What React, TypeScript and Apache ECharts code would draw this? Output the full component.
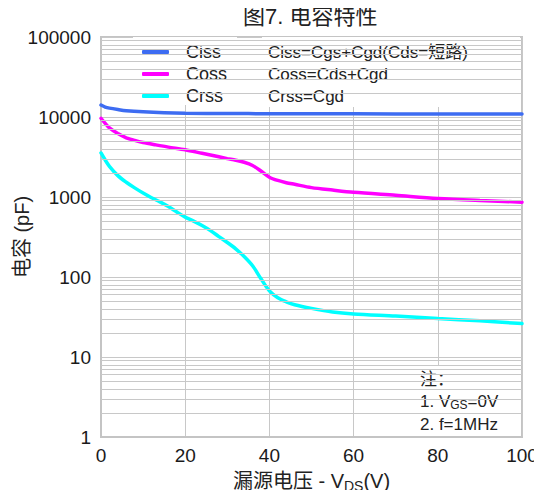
import React, { useEffect, useRef } from "react";
import * as echarts from "echarts";

// Drain-source voltage (V) sample points for each curve
const cissX = [0, 1, 2, 4, 6, 10, 15, 20, 30, 40, 60, 80, 100];
const cissY = [14100, 13300, 12900, 12400, 12000, 11600, 11300, 11150, 11050, 11000, 10950, 10900, 10900];

const cossX = [0, 1, 2, 4, 6, 8, 10, 13, 16, 20, 24, 28, 30, 32, 34, 36, 38, 40, 42, 44, 46, 50, 55, 60, 70, 80, 90, 100];
const cossY = [9640, 8300, 7300, 6200, 5500, 5100, 4800, 4480, 4200, 3900, 3520, 3180, 3020, 2880, 2720, 2480, 2110, 1770, 1610, 1510, 1440, 1310, 1220, 1145, 1050, 960, 905, 862];

const crssX = [0, 1, 2, 4, 6, 8, 10, 12, 14, 16, 18, 20, 22, 24, 26, 28, 30, 32, 34, 36, 38, 40, 42, 44, 46, 50, 55, 60, 70, 80, 90, 100];
const crssY = [3550, 2900, 2420, 1850, 1530, 1300, 1120, 980, 870, 760, 650, 560, 500, 440, 380, 320, 270, 225, 180, 138, 95, 67, 55, 49, 45, 40.5, 36.5, 34.5, 32.5, 30.3, 28.3, 26.2];

const seriesNames = ["Ciss", "Coss", "Crss"];
const seriesColors = ["#3d6cf2", "#ff00ff", "#00ffff"];

const formulas = ["Ciss=Cgs+Cgd(Cds=短路)", "Coss=Cds+Cgd", "Crss=Cgd"];
const notes = ["注：", "1. V{sub|GS}=0V", "2. f=1MHz"];

const xTicks = [0, 20, 40, 60, 80, 100];
const yDecades = [1, 10, 100, 1000, 10000, 100000];
const minorMultipliers = [2, 3, 4, 5, 6, 7, 8, 9];

const FONT = "'Liberation Sans', Arial, 'Noto Sans CJK SC', sans-serif";
const GRID_COLOR = "#c8c8c8";

function pairs(xs: number[], ys: number[]) {
  return xs.map((x, i) => [x, ys[i]]);
}

export default function App() {
  const ref = useRef<HTMLDivElement>(null);

  useEffect(() => {
    if (!ref.current) return;
    const chart = echarts.init(ref.current, undefined, { renderer: "svg" });

    const minorLines: { yAxis: number }[] = [];
    yDecades.slice(0, -1).forEach((d) =>
      minorMultipliers.forEach((m) => minorLines.push({ yAxis: d * m }))
    );

    const curves = [
      pairs(cissX, cissY),
      pairs(cossX, cossY),
      pairs(crssX, crssY),
    ];

    chart.setOption({
      animation: false,
      backgroundColor: "#ffffff",
      textStyle: { fontFamily: FONT },
      title: {
        text: "图7. 电容特性",
        left: 243,
        top: 5,
        padding: 0,
        textStyle: { fontSize: 22, fontWeight: "normal", color: "#222", fontFamily: FONT },
      },
      grid: {
        left: 101,
        right: 20,
        top: 37,
        bottom: 61,
        containLabel: false,
        outerBoundsMode: "none",
        show: true,
        borderColor: "#c4c4c4",
        borderWidth: 2,
      },
      legend: {
        data: seriesNames,
        orient: "vertical",
        left: 142,
        top: 43,
        padding: 0,
        itemGap: 4,
        itemWidth: 27,
        itemHeight: 4,
        icon: "roundRect",
        textStyle: {
          fontSize: 18,
          lineHeight: 18,
          color: "#222",
          fontFamily: FONT,
          padding: [0, 0, 0, 12],
        },
      },
      xAxis: {
        type: "value",
        min: 0,
        max: 100,
        interval: 20,
        name: "漏源电压 - V{sub|DS}(V)",
        nameLocation: "middle",
        nameGap: 33,
        nameTextStyle: {
          fontSize: 20,
          color: "#222",
          fontFamily: FONT,
          rich: {
            sub: { fontSize: 14, color: "#222", fontFamily: FONT, padding: [9, 0, 0, 0] },
          },
        },
        axisLine: { show: true, lineStyle: { color: "#c4c4c4", width: 2 } },
        axisTick: { show: false },
        axisLabel: {
          fontSize: 19,
          color: "#1a1a1a",
          margin: 9,
          fontFamily: FONT,
          customValues: xTicks,
        },
        splitLine: { show: true, lineStyle: { color: GRID_COLOR, width: 1 } },
      },
      yAxis: {
        type: "log",
        logBase: 10,
        min: 1,
        max: 100000,
        name: "电容 (pF)",
        nameLocation: "middle",
        nameGap: 69,
        nameMoveOverlap: false,
        nameTextStyle: { fontSize: 20, color: "#222", fontFamily: FONT },
        axisLine: { show: true, lineStyle: { color: "#c4c4c4", width: 2 } },
        axisTick: { show: false },
        axisLabel: {
          fontSize: 19,
          color: "#1a1a1a",
          margin: 10,
          fontFamily: FONT,
          formatter: (v: number) => String(Math.round(v)),
        },
        splitLine: { show: true, lineStyle: { color: GRID_COLOR, width: 1 } },
      },
      graphic: [
        // white panels behind the legend, the formulas and the test notes
        { type: "rect", z: 3, shape: { x: 133, y: 37, width: 104, height: 68 }, style: { fill: "#fff" } },
        { type: "rect", z: 3, shape: { x: 262, y: 37, width: 258, height: 70 }, style: { fill: "#fff" } },
        { type: "rect", z: 3, shape: { x: 410, y: 365, width: 111, height: 71 }, style: { fill: "#fff" } },
        ...formulas.map((t, i) => ({
          type: "text",
          z: 5,
          x: 268,
          y: 52 + i * 22,
          style: {
            text: t,
            fontSize: 17,
            fontFamily: FONT,
            fill: "#222",
            verticalAlign: "middle",
          },
        })),
        ...notes.map((t, i) => ({
          type: "text",
          z: 5,
          x: 420,
          y: 379 + i * 22.5,
          style: {
            text: t,
            fontSize: 17,
            fontFamily: FONT,
            fill: "#222",
            verticalAlign: "middle",
            rich: {
              sub: { fontSize: 12, fontFamily: FONT, fill: "#222", padding: [7, 0, 0, 0] },
            },
          },
        })),
      ],
      series: [
        {
          name: "minor-grid",
          type: "line",
          data: [],
          z: 1,
          silent: true,
          markLine: {
            silent: true,
            symbol: "none",
            label: { show: false },
            lineStyle: { color: GRID_COLOR, width: 1, type: "solid" },
            data: minorLines,
          },
        },
        ...seriesNames.map((name, i) => ({
          name,
          type: "line",
          data: curves[i],
          smooth: 0.3,
          symbol: "none",
          z: 2,
          lineStyle: { color: seriesColors[i], width: 3.5, cap: "round" },
          itemStyle: { color: seriesColors[i] },
        })),
      ],
    });

    return () => chart.dispose();
  }, []);

  return <div ref={ref} style={{ width: 542, height: 498, margin: -8 }} />;
}
